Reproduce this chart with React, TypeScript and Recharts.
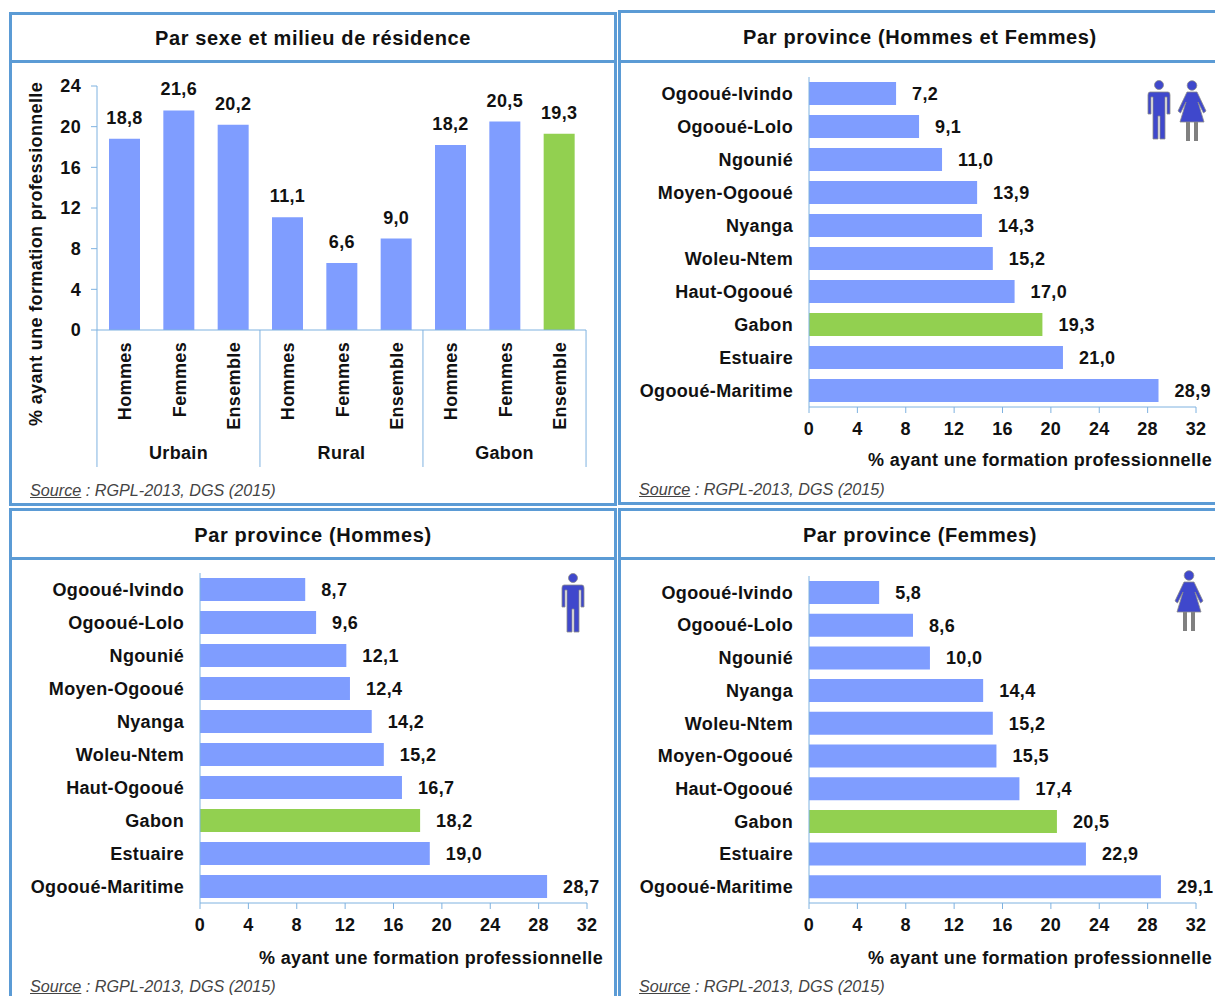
import { BarChart, Bar, XAxis, YAxis, Cell, LabelList } from "recharts";

const BLUE = "#7F9DFF";
const GREEN = "#92D050";
const LINE = "#5B9BD5";
const AXIS = "#7FB2E0";
const FONT = "'Liberation Sans', Arial, sans-serif";
const AXIS_TITLE = "% ayant une formation professionnelle";

const sexes = ["Hommes", "Femmes", "Ensemble", "Hommes", "Femmes", "Ensemble", "Hommes", "Femmes", "Ensemble"];
const groups = ["Urbain", "Rural", "Gabon"];
const sexValues = [18.8, 21.6, 20.2, 11.1, 6.6, 9.0, 18.2, 20.5, 19.3];
const sexTicks = [0, 4, 8, 12, 16, 20, 24];

const provTicks = [0, 4, 8, 12, 16, 20, 24, 28, 32];

const bothNames = ["Ogooué-Ivindo", "Ogooué-Lolo", "Ngounié", "Moyen-Ogooué", "Nyanga", "Woleu-Ntem", "Haut-Ogooué", "Gabon", "Estuaire", "Ogooué-Maritime"];
const bothValues = [7.2, 9.1, 11.0, 13.9, 14.3, 15.2, 17.0, 19.3, 21.0, 28.9];

const menNames = ["Ogooué-Ivindo", "Ogooué-Lolo", "Ngounié", "Moyen-Ogooué", "Nyanga", "Woleu-Ntem", "Haut-Ogooué", "Gabon", "Estuaire", "Ogooué-Maritime"];
const menValues = [8.7, 9.6, 12.1, 12.4, 14.2, 15.2, 16.7, 18.2, 19.0, 28.7];

const womenNames = ["Ogooué-Ivindo", "Ogooué-Lolo", "Ngounié", "Nyanga", "Woleu-Ntem", "Moyen-Ogooué", "Haut-Ogooué", "Gabon", "Estuaire", "Ogooué-Maritime"];
const womenValues = [5.8, 8.6, 10.0, 14.4, 15.2, 15.5, 17.4, 20.5, 22.9, 29.1];

const comma = (v: any) => Number(v).toFixed(1).replace(".", ",");
const textStyle = { fontFamily: FONT, fontWeight: 700, fontSize: 18, letterSpacing: 0.35, fill: "#111" };

function SexTick({ x, y, payload, index }: any) {
  const band = 54.4;
  const left = x - band / 2;
  const y0 = y - 8;
  return (
    <g>
      {index % 3 === 0 && <line x1={left} x2={left} y1={y0} y2={y0 + 137} stroke={AXIS} />}
      {index === 8 && <line x1={left + band} x2={left + band} y1={y0} y2={y0 + 137} stroke={AXIS} />}
      <text
        transform={`translate(${x + 7},${y0 + 12}) rotate(-90)`}
        textAnchor="end"
        style={textStyle}
      >
        {payload.value}
      </text>
      {index % 3 === 1 && (
        <text x={x} y={y0 + 129} textAnchor="middle" style={textStyle}>
          {groups[(index - 1) / 3]}
        </text>
      )}
    </g>
  );
}

function SexChart() {
  const rows = sexes.map((name, i) => ({ key: i, name, value: sexValues[i] }));
  return (
    <BarChart
      width={600}
      height={420}
      data={rows}
      margin={{ top: 16, right: 24, bottom: 0, left: 0 }}
      style={{ position: "absolute", left: 10, top: 70 }}
    >
      <XAxis
        dataKey="key"
        tickFormatter={(v) => sexes[v]}
        interval={0}
        height={160}
        tickLine={false}
        stroke={AXIS}
        tick={(p: any) => <SexTick {...p} payload={{ value: sexes[p.index] }} />}
      />
      <YAxis
        domain={[0, 24]}
        ticks={sexTicks}
        width={87}
        tickSize={6}
        tickMargin={10}
        stroke={AXIS}
        tick={textStyle}
        label={{
          value: AXIS_TITLE,
          angle: -90,
          position: "insideLeft",
          dx: 21,
          dy: 218,
          style: textStyle,
        }}
      />
      <Bar dataKey="value" barSize={31} isAnimationActive={false}>
        {rows.map((r, i) => (
          <Cell key={i} fill={i === 8 ? GREEN : BLUE} />
        ))}
        <LabelList dataKey="value" position="top" offset={15} formatter={comma} style={textStyle} />
      </Bar>
    </BarChart>
  );
}

function ProvinceChart({ names, values, left, top, axisWidth, height, axisHeight }: any) {
  const rows = names.map((name: string, i: number) => ({ name, value: values[i] }));
  return (
    <BarChart
      width={596}
      height={height}
      layout="vertical"
      data={rows}
      margin={{ top: 0, right: 596 - axisWidth - 387, bottom: 0, left: 0 }}
      style={{ position: "absolute", left, top }}
    >
      <XAxis
        type="number"
        domain={[0, 32]}
        ticks={provTicks}
        interval={0}
        height={axisHeight}
        tickSize={6}
        tickMargin={9}
        stroke={AXIS}
        tick={textStyle}
        label={{ value: AXIS_TITLE, position: "insideBottomRight", dx: 21, dy: -2, style: textStyle }}
      />
      <YAxis
        type="category"
        dataKey="name"
        width={axisWidth}
        interval={0}
        tickLine={false}
        tickSize={0}
        tickMargin={16}
        stroke={AXIS}
        tick={textStyle}
      />
      <Bar dataKey="value" barSize={23} isAnimationActive={false}>
        {rows.map((r: any, i: number) => (
          <Cell key={i} fill={r.name === "Gabon" ? GREEN : BLUE} />
        ))}
        <LabelList dataKey="value" position="right" offset={16} formatter={comma} style={textStyle} />
      </Bar>
    </BarChart>
  );
}

function Man({ x, y }: { x: number; y: number }) {
  return (
    <svg width={24} height={60} viewBox="0 0 24 60" style={{ position: "absolute", left: x, top: y }}>
      <g fill="#3F48CC" stroke="#8a8a8a" strokeWidth={0.8}>
        <circle cx={12} cy={5} r={4.5} />
        <path d="M3 12 H21 Q23 12 23 15 V34 H20 V17 H18 V59 H13 V36 H11 V59 H6 V17 H4 V34 H1 V15 Q1 12 3 12 Z" />
      </g>
    </svg>
  );
}

function Woman({ x, y }: { x: number; y: number }) {
  return (
    <svg width={30} height={62} viewBox="0 0 30 62" style={{ position: "absolute", left: x, top: y }}>
      <circle cx={15} cy={5.5} r={4.8} fill="#3F48CC" stroke="#8a8a8a" strokeWidth={0.8} />
      <path d="M11 42 V61 M19 42 V61" stroke="#808080" strokeWidth={4} />
      <path d="M10 12 H20 L29 31 L26.5 33 L21 22 L27 42 H3 L9 22 L3.5 33 L1 31 Z" fill="#3F48CC" stroke="#8a8a8a" strokeWidth={0.8} />
    </svg>
  );
}

function Panel({ x, y, w, h, head, title, titleWidth }: any) {
  return (
    <>
      <div style={{ position: "absolute", left: x, top: y, width: w, height: h, boxSizing: "border-box", border: `3px solid ${LINE}` }} />
      <div style={{ position: "absolute", left: x, top: head, width: w, height: 3, background: LINE }} />
      <div
        style={{
          position: "absolute",
          left: x,
          top: y + 3,
          width: titleWidth,
          height: head - y - 3,
          lineHeight: `${head - y - 1}px`,
          textAlign: "center",
          fontFamily: FONT,
          fontWeight: 700,
          fontSize: 20,
          letterSpacing: 0.62,
          color: "#111",
          whiteSpace: "nowrap",
        }}
      >
        {title}
      </div>
    </>
  );
}

function Source({ x, y }: { x: number; y: number }) {
  return (
    <div style={{ position: "absolute", left: x, top: y, fontFamily: FONT, fontStyle: "italic", fontSize: 16.2, color: "#444", whiteSpace: "nowrap" }}>
      <u>Source</u> : RGPL-2013, DGS (2015)
    </div>
  );
}

export default function App() {
  return (
    <div style={{ position: "absolute", left: 0, top: 0, width: 1215, height: 996, overflow: "hidden", background: "#fff" }}>
      <Panel x={9} y={12} w={608} h={494} head={60} title="Par sexe et milieu de résidence" titleWidth={608} />
      <Panel x={618} y={10} w={610} h={495} head={60} title="Par province (Hommes et Femmes)" titleWidth={604} />
      <Panel x={9} y={508} w={608} h={500} head={557} title="Par province (Hommes)" titleWidth={608} />
      <Panel x={618} y={508} w={610} h={500} head={557} title="Par province (Femmes)" titleWidth={604} />

      <SexChart />
      <ProvinceChart names={bothNames} values={bothValues} left={619} top={77} axisWidth={190} height={396} axisHeight={66} />
      <ProvinceChart names={menNames} values={menValues} left={10} top={573} axisWidth={190} height={398} axisHeight={68} />
      <ProvinceChart names={womenNames} values={womenValues} left={619} top={576} axisWidth={190} height={395} axisHeight={68} />

      <Man x={1147} y={80} />
      <Woman x={1177} y={80} />
      <Man x={561} y={573} />
      <Woman x={1174} y={570} />

      <Source x={30} y={481} />
      <Source x={639} y={480} />
      <Source x={30} y={977} />
      <Source x={639} y={977} />
    </div>
  );
}
